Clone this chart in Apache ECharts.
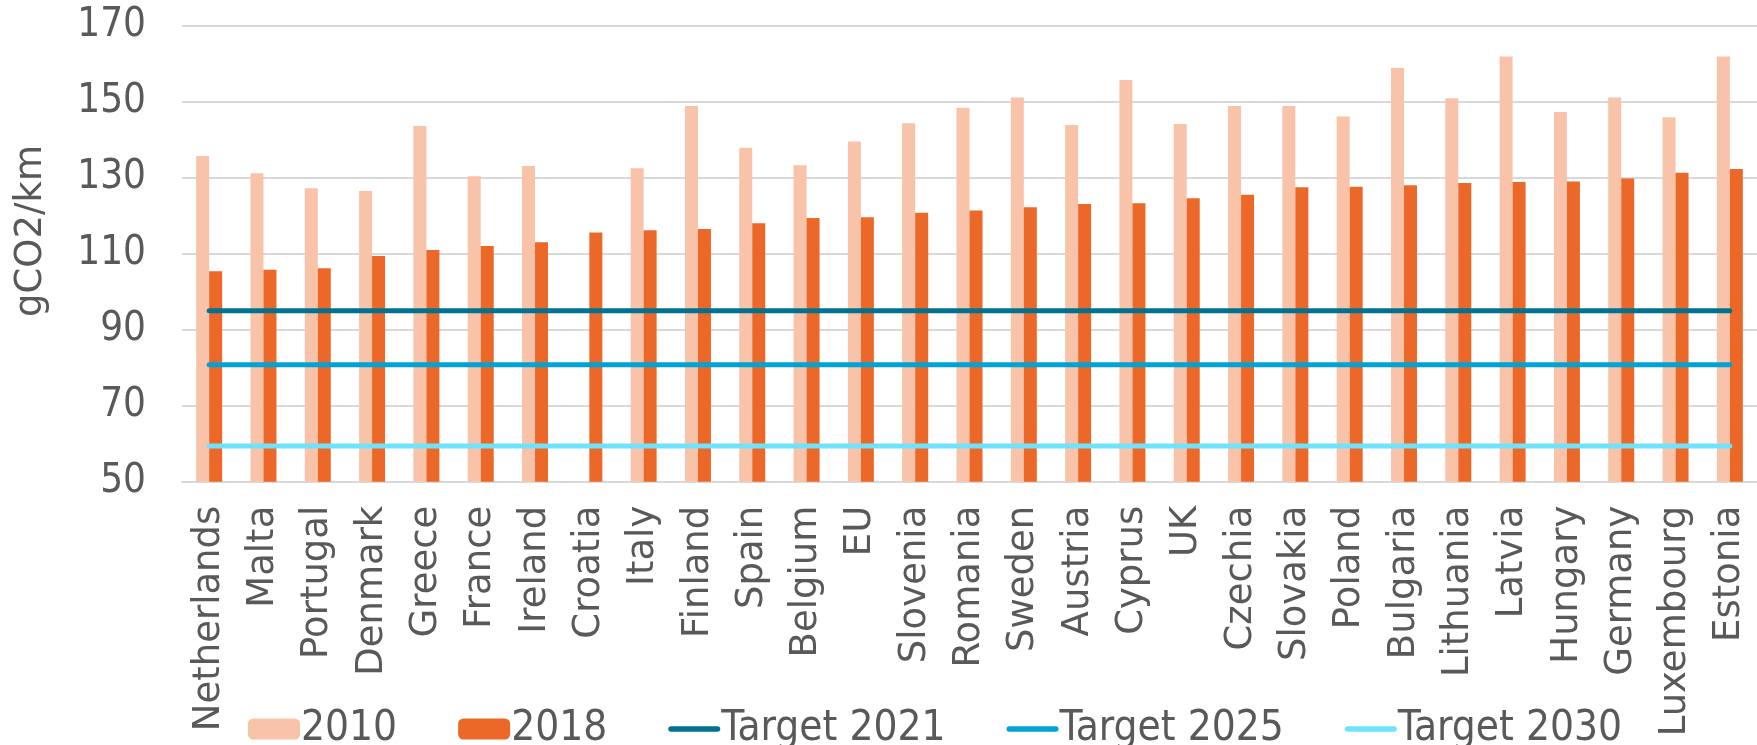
<!DOCTYPE html>
<html>
<head>
<meta charset="utf-8">
<script src="https://cdn.jsdelivr.net/npm/echarts@6/dist/echarts.min.js"></script>
<style>
  html, body { margin: 0; padding: 0; background: #fff; }
  #chart { width: 1757px; height: 745px; }
</style>
</head>
<body>
<div id="chart"></div>
<script>
// data
const countries = ['Netherlands', 'Malta', 'Portugal', 'Denmark', 'Greece', 'France', 'Ireland', 'Croatia',
  'Italy', 'Finland', 'Spain', 'Belgium', 'EU', 'Slovenia', 'Romania', 'Sweden', 'Austria', 'Cyprus', 'UK',
  'Czechia', 'Slovakia', 'Poland', 'Bulgaria', 'Lithuania', 'Latvia', 'Hungary', 'Germany', 'Luxembourg', 'Estonia'];
const values2010 = [135.7, 131.2, 127.2, 126.5, 143.6, 130.4, 133.1, 49.4,
  132.5, 148.9, 137.9, 133.3, 139.5, 144.3, 148.4, 151.1, 143.9, 155.7, 144.1,
  148.9, 148.9, 146.1, 158.9, 150.9, 161.9, 147.3, 151.1, 145.9, 161.9];
const values2018 = [105.4, 105.8, 106.2, 109.4, 111.0, 112.0, 113.0, 115.6,
  116.2, 116.5, 118.0, 119.4, 119.6, 120.8, 121.4, 122.2, 123.1, 123.3, 124.6,
  125.5, 127.5, 127.6, 128.0, 128.6, 128.9, 129.0, 129.8, 131.3, 132.3];
const targetNames = ['Target 2021', 'Target 2025', 'Target 2030'];
const targetValues = [95, 80.8, 59.4];
const yTicks = { min: 50, max: 170, step: 20 };

const textColor = '#595959';
const narrowFont = "'DejaVu Sans Condensed', 'Liberation Sans Narrow', sans-serif";
const wideFont = "'DejaVu Sans', Verdana, sans-serif";
const targetColors = ['#00728F', '#00A3D3', '#6FE3FD'];
// rounded dash used as legend icon for the target lines
const lineIcon = 'path://M3,0 H53 A3,3 0 0 1 53,6 H3 A3,3 0 0 1 3,0 Z';

const chart = echarts.init(document.getElementById('chart'));

const series = [
  {
    name: '2010', type: 'bar', data: values2010, barWidth: 13, barGap: '0%',
    itemStyle: { color: '#F8C3A8' }
  },
  {
    name: '2018', type: 'bar', data: values2018, barWidth: 13,
    itemStyle: { color: '#EB6828' }
  }
];
targetNames.forEach((name, i) => {
  series.push({
    name: name, type: 'line', symbol: 'none', z: 5,
    data: countries.map(() => targetValues[i]),
    lineStyle: { color: targetColors[i], width: 5, cap: 'round' },
    itemStyle: { color: targetColors[i] }
  });
});

chart.setOption({
  animation: false,
  grid: { left: 182, right: 0, top: 25.7, bottom: 263.3 },
  legend: {
    left: 243, top: 703,
    itemWidth: 52, itemHeight: 21, itemGap: 61,
    textStyle: { fontFamily: narrowFont, fontSize: 42, color: textColor, padding: [0, 0, 0, -4] },
    data: [
      { name: '2010' },
      { name: '2018' },
      ...targetNames.map(n => ({ name: n, icon: lineIcon }))
    ]
  },
  xAxis: {
    type: 'category', data: countries,
    axisTick: { show: false },
    axisLine: { show: true, lineStyle: { color: '#D9D9D9', width: 2 } },
    axisLabel: {
      interval: 0, rotate: 90, margin: 24,
      fontFamily: wideFont, fontSize: 37, color: textColor
    }
  },
  yAxis: {
    type: 'value', min: yTicks.min, max: yTicks.max, interval: yTicks.step,
    axisLine: { show: false }, axisTick: { show: false },
    splitLine: { lineStyle: { color: '#D9D9D9', width: 2 } },
    axisLabel: { margin: 36, fontFamily: narrowFont, fontSize: 40, color: textColor }
  },
  graphic: [{
    type: 'text', x: 31, y: 231, rotation: Math.PI / 2,
    style: {
      text: 'gCO2/km', fontFamily: wideFont, fontSize: 37, fill: textColor,
      textAlign: 'center', textVerticalAlign: 'middle'
    }
  }],
  series: series
});
</script>
</body>
</html>
